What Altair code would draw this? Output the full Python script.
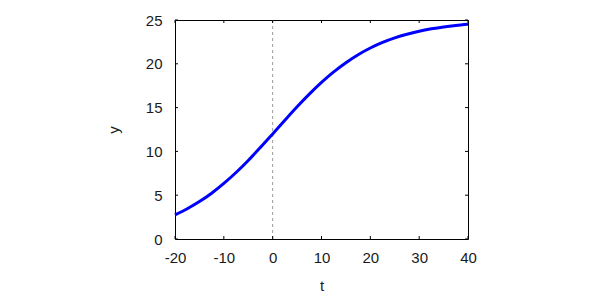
import altair as alt
import pandas as pd

# Curve values
t_vals = [-20, -17.5, -15, -12.5, -10, -7.5, -5, -2.5, 0, 2.5, 5, 7.5, 10,
          12.5, 15, 17.5, 20, 22.5, 25, 27.5, 30, 32.5, 35, 37.5, 40]
y_vals = [2.75, 3.45, 4.27, 5.23, 6.34, 7.59, 8.97, 10.46, 12.0, 13.56, 15.09,
          16.54, 17.88, 19.08, 20.13, 21.04, 21.80, 22.44, 22.96, 23.38, 23.72,
          23.99, 24.21, 24.38, 24.51]

x_ticks = [-20, -10, 0, 10, 20, 30, 40]
y_ticks = [0, 5, 10, 15, 20, 25]
vline_at = [0]

W, H = 293, 219
TICK = 3
FONT = "Liberation Sans"

curve = pd.DataFrame({"t": t_vals, "y": y_vals})
xt = pd.DataFrame({"t": x_ticks})
yt = pd.DataFrame({"y": y_ticks})
vl = pd.DataFrame({"t": vline_at})

xscale = alt.Scale(domain=[-20, 40], nice=False, zero=False)
yscale = alt.Scale(domain=[0, 25], nice=False, zero=False)

x_axis = alt.Axis(values=x_ticks, ticks=False, domain=False, grid=False,
                  labelFlush=False, labelExpr="datum.value + ''",
                  labelPadding=11, titlePadding=13, title="t")
y_axis = alt.Axis(values=y_ticks, ticks=False, domain=False, grid=False,
                  labelFlush=False, labelExpr="datum.value + ''",
                  labelPadding=13, titlePadding=24, title="y")

X = alt.X("t:Q", scale=xscale, axis=x_axis)
Y = alt.Y("y:Q", scale=yscale, axis=y_axis)

line = alt.Chart(curve).mark_line(color="#0000ff", strokeWidth=3,
                                  interpolate="monotone").encode(x=X, y=Y)

zero_line = alt.Chart(vl).mark_rule(color="#999999", strokeDash=[3, 3],
                                    strokeWidth=1).encode(x=X)

bottom_ticks = alt.Chart(xt).mark_rule(color="black").encode(
    x=X, y=alt.value(H), y2=alt.value(H - TICK))
top_ticks = alt.Chart(xt).mark_rule(color="black").encode(
    x=X, y=alt.value(0), y2=alt.value(TICK))
left_ticks = alt.Chart(yt).mark_rule(color="black").encode(
    y=Y, x=alt.value(0), x2=alt.value(TICK))
right_ticks = alt.Chart(yt).mark_rule(color="black").encode(
    y=Y, x=alt.value(W), x2=alt.value(W - TICK))

chart = alt.layer(
    zero_line, line, bottom_ticks, top_ticks, left_ticks, right_ticks
).properties(
    width=W, height=H,
    autosize=alt.AutoSizeParams(type="none"),
    padding={"left": 175, "top": 20, "right": 132, "bottom": 61},
    background="white",
).configure_view(
    stroke="black", strokeWidth=1
).configure_axis(
    labelFont=FONT, labelFontSize=15, labelColor="#1a1a1a",
    titleFont=FONT, titleFontSize=15, titleFontWeight="normal", titleColor="#1a1a1a",
)

chart.save("out.html", embed_options={"renderer": "svg", "actions": False})
